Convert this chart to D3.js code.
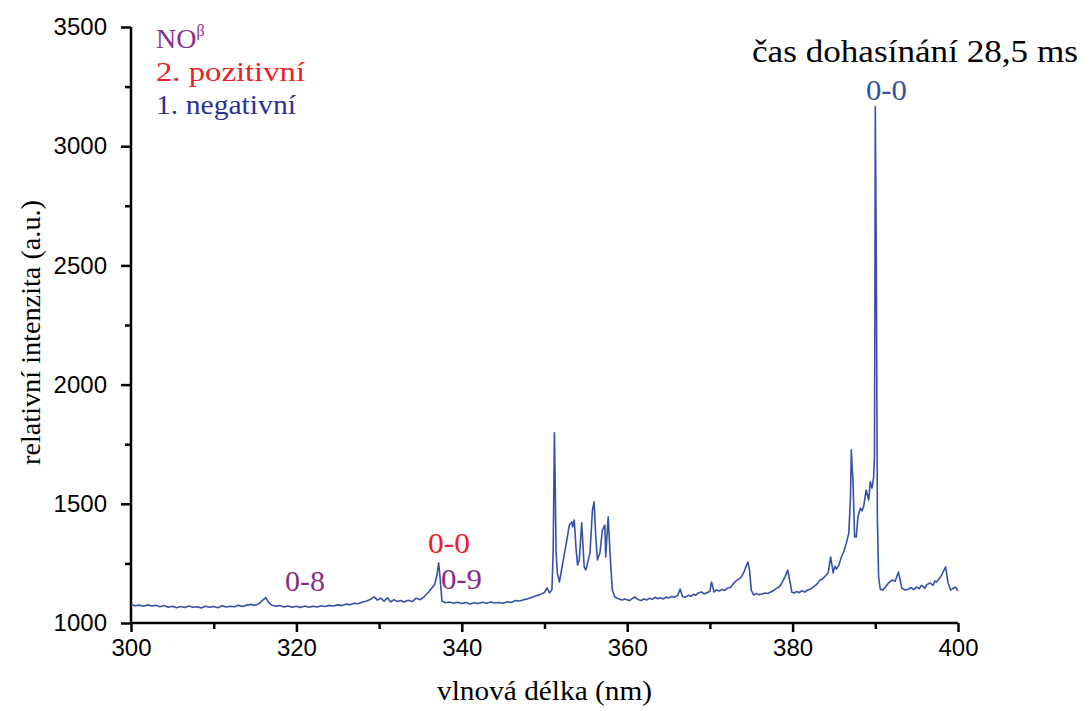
<!DOCTYPE html>
<html><head><meta charset="utf-8">
<script src="https://cdn.jsdelivr.net/npm/d3@7"></script>
<style>body{margin:0;background:#fff}svg{display:block}</style>
</head><body>
<svg id="c" width="1091" height="711"></svg>
<script>
const wavelength = [
300,300.5,301,301.5,302,302.5,303,303.5,304,304.5,305,305.5,306,306.5,307,307.5,308,308.5,309,309.5,
310,310.5,311,311.5,312,312.5,313,313.5,314,314.5,315,315.5,316,316.3,316.6,317,317.5,318,318.5,319,319.5,
320,320.5,321,321.5,322,322.5,323,323.5,324,324.5,325,325.5,326,326.5,327,327.5,328,328.5,329,329.4,329.8,
330.2,330.6,331,331.4,331.8,332.2,332.6,333,333.5,334,334.5,335,335.5,336,336.4,336.7,337,337.2,337.4,337.6,
338,338.5,339,339.5,340,340.5,341,341.5,342,342.5,343,343.5,344,344.5,345,345.5,346,346.5,347,347.5,348,348.5,
349,349.5,350,350.3,350.6,350.9,351.05,351.2,351.3,351.4,351.55,351.8,352.2,352.7,353,353.3,353.4,353.6,353.8,
354,354.2,354.5,354.8,355,355.5,355.8,356,356.2,356.4,356.7,357,357.3,357.4,357.7,357.8,357.95,358.2,358.5,
358.8,359.1,359.4,359.7,360,360.3,360.6,360.9,361.3,361.7,362.0,362.4,362.7,363.0,363.4,363.7,364.0,364.4,364.7,365.0,
365.4,365.7,366.1,366.4,366.7,367.0,367.4,367.7,368.0,368.3,368.6,369,369.3,369.7,370,370.2,370.5,370.8,371.1,371.5,
371.8,372.1,372.5,372.9,373.3,373.6,373.8,374.1,374.3,374.6,374.8,375,375.3,375.6,375.9,376.3,376.7,377.0,377.4,
377.7,378.0,378.4,378.7,379.1,379.4,379.7,379.9,380.2,380.5,380.8,381.1,381.5,381.8,382.1,382.4,382.7,383,383.3,
383.6,383.9,384.3,384.6,384.9,385.1,385.3,385.6,385.9,386.2,386.5,386.8,387,387.1,387.2,387.3,387.5,387.7,387.9,388.2,388.4,
388.6,388.9,389.2,389.4,389.6,389.8,389.9,389.95,390.0,390.05,390.1,390.15,390.25,390.4,390.6,390.9,391.2,391.6,
392,392.4,392.8,393.2,393.6,394,394.3,394.6,395,395.3,395.6,396,396.2,396.6,397,397.2,397.4,397.8,398,398.2,398.5,398.8,399.1,399.4,399.7,400];
const intensity = [
1078,1072,1075,1070,1076,1071,1074,1068,1073,1066,1070,1064,1069,1065,1071,1066,1068,1063,1070,1066,
1069,1064,1072,1067,1070,1068,1074,1069,1075,1078,1074,1082,1098,1106,1088,1076,1070,1073,1067,1071,1066,
1070,1065,1071,1066,1070,1067,1072,1069,1074,1071,1076,1073,1079,1077,1083,1081,1088,1092,1100,1110,1096,
1104,1092,1106,1088,1098,1090,1094,1088,1095,1090,1104,1098,1112,1130,1148,1160,1200,1252,1180,1092,
1085,1088,1083,1087,1082,1086,1080,1085,1082,1087,1083,1088,1084,1086,1083,1089,1086,1094,1092,1098,1102,1108,
1114,1120,1128,1147,1126,1140,1300,1798,1570,1300,1210,1172,1250,1348,1411,1424,1403,1432,1319,
1243,1264,1420,1235,1222,1294,1474,1508,1361,1264,1294,1390,1411,1277,1445,1377,1277,1138,1109,
1104,1100,1096,1101,1097,1094,1102,1109,1099,1094,1101,1097,1104,1099,1108,1102,1106,1101,1109,1105,
1111,1108,1116,1142,1110,1108,1116,1112,1120,1117,1126,1130,1122,1128,1133,1172,1130,1139,1134,1140,
1137,1146,1150,1168,1180,1186,1193,1212,1231,1256,1220,1138,1117,1124,1119,1122,1126,1124,1131,
1136,1144,1152,1168,1195,1222,1170,1130,1126,1132,1127,1135,1130,1138,1142,1148,1156,1165,1180,
1184,1195,1210,1277,1210,1238,1226,1243,1277,1300,1336,1377,1529,1726,1650,1600,1361,1361,1445,1482,1470,
1490,1558,1516,1592,1566,1612,1700,2300,3165,2900,2650,2300,1445,1193,1142,1138,1150,1168,
1180,1175,1214,1147,1138,1142,1149,1140,1151,1144,1158,1146,1160,1168,1158,1176,1172,1189,1200,1214,1235,1168,1138,1145,1151,1135,1150];

const xTicks = [300,320,340,360,380,400];
const yTicks = [1000,1500,2000,2500,3000,3500];
const xMinor = [310,330,350,370,390];
const yMinor = [1250,1750,2250,2750,3250];

const svg = d3.select("#c");
const x = d3.scaleLinear().domain([300,400]).range([131,958]);
const y = d3.scaleLinear().domain([1000,3500]).range([623,27]);

const sans = "'Liberation Sans', Arial, sans-serif";
const serif = "'Liberation Serif', 'Times New Roman', serif";

const xAxis = svg.append("g").attr("transform","translate(0,623)")
  .call(d3.axisBottom(x).tickValues(xTicks).tickSize(9).tickPadding(7).tickFormat(d3.format("d")));
svg.append("g").attr("transform","translate(0,623)")
  .call(d3.axisBottom(x).tickValues(xMinor).tickSize(6).tickFormat(""))
  .select(".domain").remove();
const yAxis = svg.append("g").attr("transform","translate(131,0)")
  .call(d3.axisLeft(y).tickValues(yTicks).tickSize(10).tickPadding(14).tickFormat(d3.format("d")));
svg.append("g").attr("transform","translate(131,0)")
  .call(d3.axisLeft(y).tickValues(yMinor).tickSize(6).tickFormat(""))
  .select(".domain").remove();

svg.selectAll(".domain").attr("stroke","#000").attr("stroke-width",2.5);
svg.selectAll(".tick line").attr("stroke","#000").attr("stroke-width",2.5);
svg.selectAll(".tick text").style("font-family",sans).style("font-size","24px").attr("fill","#000");
xAxis.selectAll(".domain").attr("d","M131,0H958");
yAxis.selectAll(".domain").attr("d","M0,623V27");

// spectrum
const pts = wavelength.map((w,i)=>[w,intensity[i]]);
svg.append("path").datum(pts)
  .attr("fill","none").attr("stroke","#3552a6").attr("stroke-width",1.6)
  .attr("stroke-linejoin","round")
  .attr("d", d3.line().x(d=>x(d[0])).y(d=>y(d[1])));

function st(sel, size, len){
  sel.style("font-family",serif).style("font-size",size+"px");
  if (len) sel.attr("textLength",len).attr("lengthAdjust","spacingAndGlyphs");
  return sel;
}

// axis labels
st(svg.append("text"),27,215).attr("x",437).attr("y",700).text("vlnová délka (nm)");
st(svg.append("text"),27,265).attr("transform","translate(40,465) rotate(-90)").text("relativní intenzita (a.u.)");

// title
st(svg.append("text"),31,326).attr("x",752).attr("y",62).attr("fill","#000").text("čas dohasínání 28,5 ms");

// legend
const no = st(svg.append("text"),28).attr("x",156).attr("y",48).attr("fill","#8a2f8a");
no.append("tspan").text("NO");
no.append("tspan").style("font-size","16px").attr("dy",-12).text("β");
st(svg.append("text"),28,149).attr("x",156).attr("y",81).attr("fill","#ec2027").text("2. pozitivní");
st(svg.append("text"),28,140).attr("x",156).attr("y",114).attr("fill","#2e3192").text("1. negativní");

// peak labels
st(svg.append("text"),29,40).attr("x",285).attr("y",591).attr("fill","#862d86").text("0-8");
st(svg.append("text"),29,42).attr("x",428).attr("y",553).attr("fill","#ec2027").text("0-0");
st(svg.append("text"),29,41).attr("x",441).attr("y",589).attr("fill","#862d86").text("0-9");
st(svg.append("text"),29,41).attr("x",866).attr("y",100).attr("fill","#3552a6").text("0-0");
</script>
</body></html>
